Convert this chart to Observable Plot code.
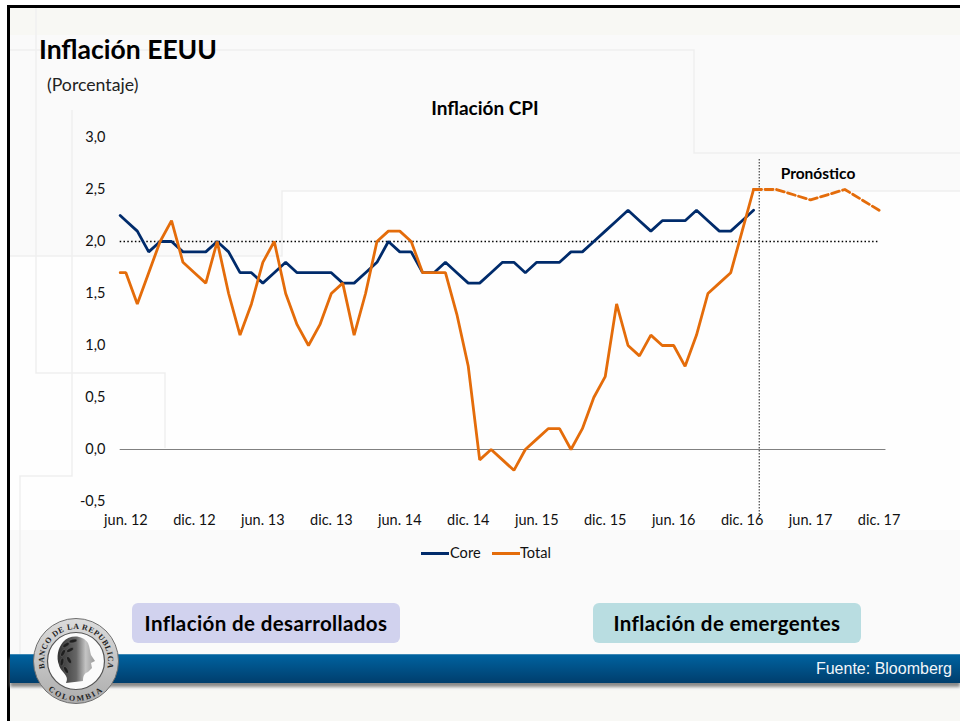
<!DOCTYPE html>
<html lang="es">
<head>
<meta charset="utf-8">
<script src="https://cdn.jsdelivr.net/npm/d3@7"></script>
<script src="https://cdn.jsdelivr.net/npm/@observablehq/plot@0.6"></script>
<style>
html,body{margin:0;padding:0;background:#fff;}
#page{position:relative;width:960px;height:721px;overflow:hidden;background:#fff;}
#page>*{position:absolute;}
#frame{left:7px;top:5px;width:953px;height:716px;box-sizing:border-box;border-left:3px solid #000;border-top:3px solid #000;background:#fafafa;}
#bands{left:0;top:0;}
#chart{left:0;top:0;}
.t{white-space:nowrap;color:#000;}
#title{left:39px;top:34px;font:700 26.5px/30px Lato,sans-serif;}
#unit{left:47px;top:75px;font:400 17.7px/20px Lato,sans-serif;color:#222;}
#ctitle{left:385px;width:200px;text-align:center;top:98px;font:700 19px/20px Lato,sans-serif;}
#pron{left:768px;width:100px;text-align:center;top:164px;font:700 15.5px/18px Lato,sans-serif;}
.box{top:603px;width:268px;height:40px;border-radius:6px;text-align:center;font:700 20.5px/40px Lato,sans-serif;letter-spacing:.38px;}
#b1{left:132px;background:#d1d2ee;}
#b2{left:593px;background:#b9dde1;}
#banner{left:10px;top:654px;width:950px;height:29px;background:linear-gradient(#00629f,#003e6d);border-top:1px solid #3d88b5;box-sizing:border-box;box-shadow:0 4px 3px #8a8a8a;}
#src{right:8px;top:660px;color:#f2f6fa;font:400 16px/18px "Liberation Sans",sans-serif;}
#legend{left:421px;top:544px;height:18px;font:400 14.6px/18px Lato,sans-serif;color:#111;}
#legend i{position:absolute;top:8px;height:3px;}
#legend span{position:absolute;top:0;}
</style>
</head>
<body>
<div id="page">
  <div id="frame"></div>
  <svg id="bands" width="960" height="721" fill="none">
    <rect x="10" y="8" width="950" height="27" fill="#f8f8f4"/>
    <rect x="282" y="191" width="678" height="339" fill="#fefefe"/>
    <rect x="10" y="256" width="272" height="274" fill="#fefefe"/>
    <rect x="10" y="690" width="950" height="31" fill="#f8f8f5"/>
    <g stroke="#efefef" stroke-width="1.5">
      <path d="M10 50H694V153H960"/>
      <path d="M36 8V373H165V448"/>
      <path d="M72 110V476H20V654"/>
      <path d="M10 256H282V191H960"/>
    </g>
  </svg>
  <div id="chart"></div>
  <div id="title" class="t">Inflación EEUU</div>
  <div id="unit" class="t">(Porcentaje)</div>
  <div id="ctitle" class="t">Inflación CPI</div>
  <div id="pron" class="t">Pronóstico</div>
  <div id="legend"><i style="left:0;width:28px;background:#002b6b"></i><span style="left:29px">Core</span><i style="left:71px;width:28px;background:#e46c0a"></i><span style="left:99px">Total</span></div>
  <div id="b1" class="box t">Inflación de desarrollados</div>
  <div id="b2" class="box t">Inflación de emergentes</div>
  <div id="banner"></div>
  <div id="src" class="t">Fuente: Bloomberg</div>
  <svg id="seal" style="left:30px;top:615px" width="92" height="92" viewBox="0 0 92 92">
    <defs>
      <path id="arcTop" d="M15.6 56A32 32 0 1 1 76.4 56"/>
      <path id="arcBot" d="M14 70A40 40 0 0 0 78 70"/>
      <linearGradient id="ring" x1="0" y1="0" x2="0" y2="1"><stop offset="0" stop-color="#dcdcdc"/><stop offset="1" stop-color="#adadad"/></linearGradient>
      <linearGradient id="head" x1="0" y1="0" x2="1" y2="0"><stop offset="0" stop-color="#333"/><stop offset=".5" stop-color="#666"/><stop offset=".75" stop-color="#c4c4c4"/><stop offset="1" stop-color="#9a9a9a"/></linearGradient>
    </defs>
    <circle cx="46" cy="46" r="42.5" fill="url(#ring)" stroke="#6f6f6f" stroke-width="1"/>
    <circle cx="46" cy="46" r="28.5" fill="#fbfbfb" stroke="#555" stroke-width="1.2"/>
    <text font-family="'Liberation Serif',serif" font-weight="700" font-size="8" fill="#222" letter-spacing=".55"><textPath href="#arcTop" startOffset="50%" text-anchor="middle">BANCO DE LA REPUBLICA</textPath></text>
    <text font-family="'Liberation Serif',serif" font-weight="700" font-size="8" fill="#222" letter-spacing="2"><textPath href="#arcBot" startOffset="50%" text-anchor="middle">COLOMBIA</textPath></text>
    <path d="M33 27C40 19 53 20 58 28C60 33 60 37 61 40L65 46L61 48L62 53L58 57C55 58 53 60 53 66L36 68C40 60 31 58 29 50C26 42 28 33 33 27Z" fill="url(#head)"/>
    <g fill="#1f1f1f" stroke="#777" stroke-width=".4">
      <ellipse cx="36" cy="30" rx="4" ry="1.8" transform="rotate(-35 36 30)"/>
      <ellipse cx="43" cy="26" rx="4" ry="1.8" transform="rotate(-10 43 26)"/>
      <ellipse cx="33" cy="38" rx="4" ry="1.8" transform="rotate(-60 33 38)"/>
      <ellipse cx="40" cy="35" rx="4" ry="1.8" transform="rotate(-30 40 35)"/>
      <ellipse cx="32" cy="47" rx="4" ry="1.8" transform="rotate(-80 32 47)"/>
      <ellipse cx="39" cy="45" rx="4" ry="1.8" transform="rotate(60 39 45)"/>
      <ellipse cx="36" cy="55" rx="4" ry="1.8" transform="rotate(60 36 55)"/>
    </g>
  </svg>
</div>
<script>
// Month index: 0 = jun. 12, each step is one month.
const coreMonths = [-0.5,0,1,2,3,4,5,6,7,8,9,10,11,12,13,14,15,16,17,18,19,20,21,22,23,24,25,26,27,28,29,30,31,32,33,34,35,36,37,38,39,40,41,42,43,44,45,46,47,48,49,50,51,52,53,54,55];
const coreValues = [2.25,2.2,2.1,1.9,2.0,2.0,1.9,1.9,1.9,2.0,1.9,1.7,1.7,1.6,1.7,1.8,1.7,1.7,1.7,1.7,1.6,1.6,1.7,1.8,2.0,1.9,1.9,1.7,1.7,1.8,1.7,1.6,1.6,1.7,1.8,1.8,1.7,1.8,1.8,1.8,1.9,1.9,2.0,2.1,2.2,2.3,2.2,2.1,2.2,2.2,2.2,2.3,2.2,2.1,2.1,2.2,2.3];
const totalValues = [1.7,1.7,1.4,1.7,2.0,2.2,1.8,1.7,1.6,2.0,1.5,1.1,1.4,1.8,2.0,1.5,1.2,1.0,1.2,1.5,1.6,1.1,1.5,2.0,2.1,2.1,2.0,1.7,1.7,1.7,1.3,0.8,-0.1,0.0,-0.1,-0.2,0.0,0.1,0.2,0.2,0.0,0.2,0.5,0.7,1.4,1.0,0.9,1.1,1.0,1.0,0.8,1.1,1.5,1.6,1.7,2.1,2.5];
const forecastMonths = [55,57,60,63,66];
const forecastValues = [2.5,2.5,2.4,2.5,2.3];
const tickMonths = [0,6,12,18,24,30,36,42,48,54,60,66];
const tickLabels = ["jun. 12","dic. 12","jun. 13","dic. 13","jun. 14","dic. 14","jun. 15","dic. 15","jun. 16","dic. 16","jun. 17","dic. 17"];
const yTicks = [-0.5,0,0.5,1,1.5,2,2.5,3];

const core = coreMonths.map((m,i)=>({m,v:coreValues[i]}));
const total = coreMonths.map((m,i)=>({m,v:totalValues[i]}));
const forecast = forecastMonths.map((m,i)=>({m,v:forecastValues[i]}));

const fig = Plot.plot({
  width:960, height:560,
  marginLeft:125.4, marginRight:81.4, marginTop:137, marginBottom:59,
  style:{background:"transparent",fontFamily:"Lato, sans-serif",fontSize:"14.5px",color:"#111",overflow:"visible"},
  x:{type:"linear",domain:[0,66]},
  y:{type:"linear",domain:[-0.5,3]},
  marks:[
    Plot.axisY({ticks:yTicks,tickSize:0,tickPadding:0,dx:-20.5,label:null,tickFormat:d=>d3.format(".1f")(d).replace(".",",").replace("−","-"),fontSize:14.5,fill:"#111"}),
    Plot.axisX({ticks:tickMonths,tickSize:0,tickPadding:13.5,label:null,tickFormat:d=>tickLabels[tickMonths.indexOf(d)],fontSize:14.5,fill:"#111"}),
    Plot.ruleY([{y:0,a:-0.5,b:66.6}],{y:"y",x1:"a",x2:"b",stroke:"#808080",strokeWidth:1.2}),
    Plot.ruleY([{y:2,a:-0.5,b:66}],{y:"y",x1:"a",x2:"b",stroke:"#000",strokeWidth:1.6,strokeDasharray:"1.5,2.3"}),
    Plot.ruleX([{x:55.5,a:-0.63,b:2.8}],{x:"x",y1:"a",y2:"b",stroke:"#555",strokeWidth:1.3,strokeDasharray:"1.5,1.5"}),
    Plot.line(core,{x:"m",y:"v",stroke:"#002b6b",strokeWidth:2.8,strokeLinejoin:"miter"}),
    Plot.line(total,{x:"m",y:"v",stroke:"#e46c0a",strokeWidth:2.8,strokeLinejoin:"miter"}),
    Plot.line(forecast,{x:"m",y:"v",stroke:"#e46c0a",strokeWidth:2.8,strokeDasharray:"8,3.5"})
  ]
});
document.getElementById("chart").appendChild(fig);
</script>
</body>
</html>
